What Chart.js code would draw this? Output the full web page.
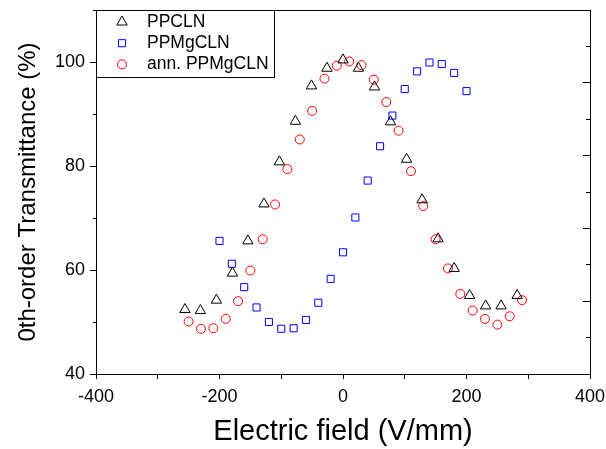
<!DOCTYPE html>
<html>
<head>
<meta charset="utf-8">
<title>0th-order transmittance vs electric field</title>
<script src="https://cdn.jsdelivr.net/npm/chart.js@4.4.1/dist/chart.umd.min.js"></script>
<style>
  html, body { margin: 0; padding: 0; background: #fff; }
  #wrap { width: 606px; height: 449px; }
</style>
</head>
<body>
<div id="wrap"><canvas id="transChart" width="606" height="449"></canvas></div>
<script>
const family = "'Liberation Sans', Arial, Helvetica, sans-serif";

// PPCLN (triangles)
const ppclnField = [-256, -231, -205, -179, -154, -128, -103, -77, -51, -26, 0, 25, 51, 77, 103, 128, 154, 180, 205, 231, 256, 282];
const ppclnTrans = [52.4, 52.2, 54.2, 59.4, 65.6, 72.7, 80.8, 88.6, 95.4, 98.8, 100.4, 98.8, 95.2, 88.5, 81.3, 73.5, 66.0, 60.3, 55.1, 53.1, 53.1, 55.1];

// PPMgCLN (squares)
const ppmgclnField = [-200, -180, -160, -140, -120, -100, -80, -60, -40, -20, 0, 20, 40, 60, 80, 100, 120, 140, 160, 180, 200];
const ppmgclnTrans = [65.6, 61.2, 56.7, 52.8, 50.0, 48.7, 48.8, 50.4, 53.7, 58.3, 63.4, 70.1, 77.2, 83.8, 89.7, 94.8, 98.2, 99.9, 99.6, 97.9, 94.4];

// annealed PPMgCLN (circles)
const annField = [-250, -230, -210, -190, -170, -150, -130, -110, -90, -70, -50, -30, -10, 10, 30, 50, 70, 90, 110, 130, 150, 170, 190, 210, 230, 250, 270, 290];
const annTrans = [50.1, 48.7, 48.8, 50.6, 54.0, 59.9, 65.9, 72.6, 79.4, 85.1, 90.6, 96.8, 99.3, 100.1, 99.4, 96.6, 92.3, 86.8, 79.0, 72.3, 65.9, 60.3, 55.4, 52.2, 50.6, 49.5, 51.1, 54.2];

const seriesLabels = ['PPCLN', 'PPMgCLN', 'ann. PPMgCLN'];

function pts(xs, ys) {
    return xs.map(function (x, i) { return {x: x, y: ys[i]}; });
}

function minor(ctx, step) {
    return ctx.tick && Math.abs(ctx.tick.value % step) > 1e-9;
}

// fixed axis box size, and no extra room for the edge labels
function fixSize(prop, size) {
    return function (s) {
        s[prop] = size;
        s.paddingLeft = s.paddingRight = s.paddingTop = s.paddingBottom = 0;
    };
}

// boxed legend sitting in the upper left corner of the plot
const boxLegend = {
    id: 'boxLegend',
    afterDraw(chart) {
        const ctx = chart.ctx;
        const x0 = chart.chartArea.left, y0 = chart.chartArea.top;
        ctx.save();
        ctx.fillStyle = '#fff';
        ctx.fillRect(x0, y0, 178, 67);
        ctx.strokeStyle = '#000';
        ctx.lineWidth = 1;
        ctx.strokeRect(x0 + 0.5, y0 + 0.5, 178, 67);
        ctx.font = '17.5px ' + family;
        ctx.textBaseline = 'middle';
        chart.data.datasets.forEach(function (ds, i) {
            const cy = y0 + 12 + i * 21.2;
            ctx.strokeStyle = ds.pointBorderColor;
            ctx.fillStyle = 'rgba(0,0,0,0)';
            ctx.lineWidth = ds.pointBorderWidth;
            Chart.helpers.drawPoint(ctx, {
                pointStyle: ds.pointStyle,
                radius: ds.pointRadius,
                rotation: 0,
                borderWidth: ds.pointBorderWidth
            }, x0 + 26, cy);
            ctx.fillStyle = '#000';
            ctx.fillText(ds.label, x0 + 51, cy);
        });
        ctx.restore();
    }
};

const tickFont = {family: family, size: 18};

new Chart(document.getElementById('transChart'), {
    type: 'scatter',
    data: {
        datasets: [{
            label: seriesLabels[0],
            data: pts(ppclnField, ppclnTrans),
            pointStyle: 'triangle',
            pointRadius: 6,
            pointHoverRadius: 6,
            pointBorderWidth: 1,
            pointBorderColor: '#000000',
            pointBackgroundColor: 'rgba(0,0,0,0)'
        }, {
            label: seriesLabels[1],
            data: pts(ppmgclnField, ppmgclnTrans),
            pointStyle: 'rect',
            pointRadius: 5,
            pointHoverRadius: 5,
            pointBorderWidth: 1,
            pointBorderColor: '#0000ff',
            pointBackgroundColor: 'rgba(0,0,0,0)'
        }, {
            label: seriesLabels[2],
            data: pts(annField, annTrans),
            pointStyle: 'circle',
            pointRadius: 4.5,
            pointHoverRadius: 4.5,
            pointBorderWidth: 1,
            pointBorderColor: '#ff0000',
            pointBackgroundColor: 'rgba(0,0,0,0)'
        }]
    },
    options: {
        responsive: false,
        animation: false,
        layout: {padding: {left: 0, top: 10, right: 16, bottom: 0}},
        plugins: {
            legend: {display: false},
            tooltip: {enabled: false}
        },
        scales: {
            x: {
                type: 'linear',
                position: 'bottom',
                min: -400,
                max: 400,
                ticks: {
                    stepSize: 100,
                    autoSkip: false,
                    maxRotation: 0,
                    color: '#000',
                    font: tickFont,
                    padding: 7,
                    callback: function (v) { return v % 200 === 0 ? String(v) : ''; }
                },
                grid: {
                    drawOnChartArea: false,
                    tickLength: 5,
                    tickColor: '#000',
                    tickWidth: 1,
                    tickBorderDash: function (ctx) { return minor(ctx, 200) ? [4, 20] : []; }
                },
                border: {color: '#000', width: 1},
                title: {
                    display: true,
                    text: 'Electric field (V/mm)',
                    color: '#000',
                    font: {family: family, size: 29},
                    padding: {top: 0, bottom: 0}
                },
                afterFit: fixSize('height', 75)
            },
            xt: {
                type: 'linear',
                position: 'top',
                min: -400,
                max: 400,
                ticks: {display: false},
                grid: {drawOnChartArea: false, drawTicks: false},
                border: {color: '#000', width: 1},
                afterFit: fixSize('height', 0)
            },
            y: {
                type: 'linear',
                position: 'left',
                min: 40,
                max: 110,
                ticks: {
                    stepSize: 10,
                    color: '#000',
                    font: tickFont,
                    padding: 5,
                    callback: function (v) { return v % 20 === 0 ? String(v) : ''; }
                },
                grid: {
                    drawOnChartArea: false,
                    tickLength: 6,
                    tickColor: '#000',
                    tickWidth: 1,
                    tickBorderDash: function (ctx) { return minor(ctx, 20) ? [0, 3, 3, 20] : []; }
                },
                border: {color: '#000', width: 1},
                title: {
                    display: true,
                    text: '0th-order Transmittance (%)',
                    color: '#000',
                    font: {family: family, size: 24},
                    padding: {top: 14, bottom: 0}
                },
                afterFit: fixSize('width', 96)
            },
            y2: {
                type: 'linear',
                position: {x: 400},
                min: 0,
                max: 100,
                ticks: {display: false, stepSize: 10},
                grid: {
                    drawOnChartArea: false,
                    tickLength: 7,
                    tickColor: '#000',
                    tickWidth: 1,
                    tickBorderDash: function (ctx) { return minor(ctx, 20) ? [4, 20] : []; }
                },
                border: {color: '#000', width: 1}
            }
        }
    },
    plugins: [boxLegend]
});
</script>
</body>
</html>
